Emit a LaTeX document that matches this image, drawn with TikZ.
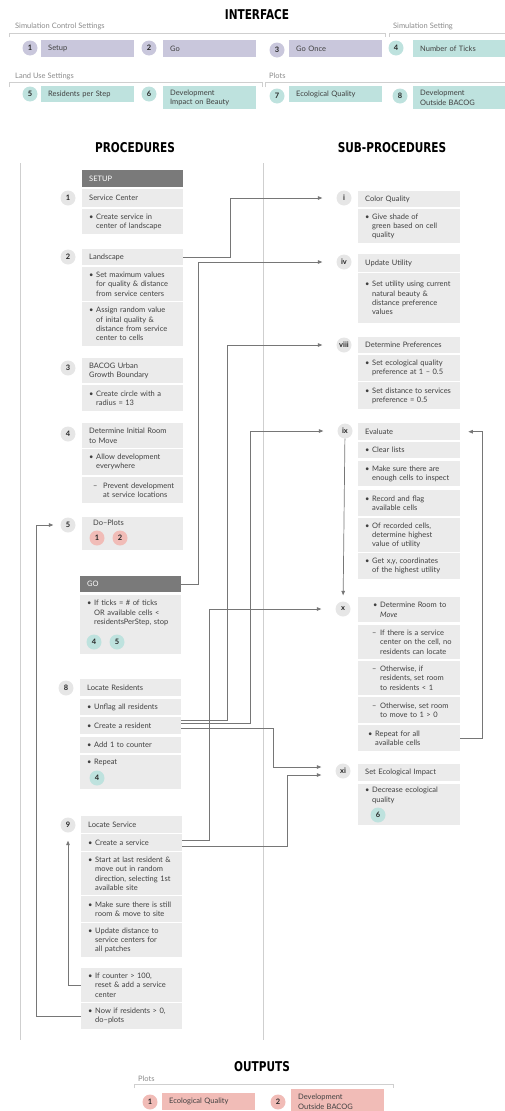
\documentclass[tikz,border=0pt]{standalone}
\usepackage{fontspec}
\setmainfont{Lato}
\newfontfamily\headfont{DejaVu Sans}[FakeStretch=0.78]
\usetikzlibrary{arrows.meta}
\definecolor{nlLav}{HTML}{C9C7DC}
\definecolor{nlTeal}{HTML}{BEE2DE}
\definecolor{nlPink}{HTML}{F1BCB7}
\definecolor{nlBox}{HTML}{EBEBEB}
\definecolor{nlDark}{HTML}{7A7A7A}
\definecolor{nlDisc}{HTML}{E6E6E6}
\definecolor{nlLine}{HTML}{767676}
\definecolor{nlRule}{HTML}{CFCFCF}
\definecolor{nlText}{HTML}{404040}
\definecolor{nlGrp}{HTML}{8A8A8A}
\newcommand{\bu}{\makebox[7pt][l]{\textbullet}}
\newcommand{\ind}{\hspace*{7pt}}
\newcommand{\da}{\hspace*{4pt}\makebox[10pt][l]{--}}
\newcommand{\dind}{\hspace*{14pt}}
\newcommand{\xda}{\hspace*{7pt}\makebox[8pt][l]{--}}
\newcommand{\xind}{\hspace*{15pt}}

\begin{document}
\begin{tikzpicture}[
  x=1pt, y=-1pt,
  every node/.style={font=\fontsize{7.5}{9.3}\selectfont, text=nlText},
  head/.style={font=\headfont\bfseries\fontsize{13.5}{13.5}\selectfont,
    text=black, inner sep=0pt},
  grp/.style={anchor=west, text=nlGrp, inner sep=0pt},
  bracket/.style={draw=nlRule, line width=0.8pt},
  divider/.style={draw=nlRule, line width=0.6pt},
  pbox/.style={rectangle, fill=nlBox, anchor=north west, align=left,
    inner xsep=7pt, inner ysep=1pt, text width=87pt},
  sbox/.style={pbox, text width=88pt},
  ibox/.style={pbox, text width=79pt},
  hbox/.style={pbox, fill=nlDark, text=white},
  num/.style={circle, fill=nlDisc, minimum size=15pt, inner sep=0pt,
    font=\bfseries\fontsize{7.5}{7.5}\selectfont, text=black!85},
  arrow/.style={-{Triangle[length=4.5pt,width=3.6pt]}, draw=nlLine,
    line width=0.7pt}
]
 \useasboundingbox (0,0) rectangle (504,1111);

 % Interface
 \node[head] (tint) at (257,15) {INTERFACE};
 \node[grp] (gctl) at (15,26) {Simulation Control Settings};
 \node[grp] (gset) at (393,26) {Simulation Setting};
 \draw[bracket] (9,37) -- (9,33) -- (385,33) -- (385,37);
 \draw[bracket] (389,37) -- (389,33) -- (510,33);

 \node[ibox, fill=nlLav, minimum height=17pt] (isetup) at (41,40) {Setup};
 \node[ibox, fill=nlLav, minimum height=17pt] (igo) at (163,40) {Go};
 \node[ibox, fill=nlLav, minimum height=17pt] (igonce) at (289,40) {Go Once};
 \node[ibox, fill=nlTeal, minimum height=17pt] (iticks) at (413,40) {Number of Ticks};
 \node[num, fill=nlLav] (i1) at (30,48) {1};
 \node[num, fill=nlLav] (i2) at (149,48) {2};
 \node[num, fill=nlLav] (i3) at (277,50) {3};
 \node[num, fill=nlTeal] (i4) at (396,48) {4};

 \node[grp] (gland) at (15,76) {Land Use Settings};
 \node[grp] (gplot) at (269,76) {Plots};
 \draw[bracket] (9,87) -- (9,82) -- (262,82) -- (262,87);
 \draw[bracket] (265,87) -- (265,82) -- (510,82);

 \node[ibox, fill=nlTeal, minimum height=16pt] (ires) at (41,86) {Residents per Step};
 \node[ibox, fill=nlTeal, minimum height=23pt] (idev) at (163,86)
  {Development\\Impact on Beauty};
 \node[ibox, fill=nlTeal, minimum height=16pt] (ieco) at (289,86) {Ecological Quality};
 \node[ibox, fill=nlTeal, minimum height=23pt] (iout) at (413,86)
  {Development\\Outside BACOG};
 \node[num, fill=nlTeal] (i5) at (30,94) {5};
 \node[num, fill=nlTeal] (i6) at (149,94) {6};
 \node[num, fill=nlTeal] (i7) at (277,96) {7};
 \node[num, fill=nlTeal] (i8) at (400,96) {8};

 % Column titles and dividers
 \node[head] (tproc) at (135,148) {PROCEDURES};
 \node[head] (tsub) at (392,148) {SUB-PROCEDURES};
 \draw[divider] (20,163) -- (20,1040);
 \draw[divider] (263,163) -- (263,1040);

 % Setup
 \node[hbox, minimum height=17pt] (setuphd) at (82,170) {SETUP};
 \node[pbox, minimum height=18pt] (svc) at (82,189) {Service Center};
 \node[pbox, minimum height=25pt] (svc1) at (82,209)
  {\bu Create service in\\\ind center of landscape};
 \node[num] (p1) at (68,198) {1};

 \node[pbox, minimum height=16pt] (land) at (82,249) {Landscape};
 \node[pbox, minimum height=34pt] (land1) at (82,267)
  {\bu Set maximum values\\\ind for quality \& distance\\\ind from service centers};
 \node[pbox, minimum height=44pt] (land2) at (82,302)
  {\bu Assign random value\\\ind of inital quality \&\\\ind distance from service\\\ind center to cells};
 \node[num] (p2) at (68,257) {2};

 \node[pbox, minimum height=25pt] (bac) at (82,358) {BACOG Urban\\Growth Boundary};
 \node[pbox, minimum height=26pt] (bac1) at (82,385)
  {\bu Create circle with a\\\ind radius = 13};
 \node[num] (p3) at (68,368) {3};

 \node[pbox, minimum height=25pt] (room) at (82,423) {Determine Initial Room\\to Move};
 \node[pbox, minimum height=26pt] (room1) at (82,449)
  {\bu Allow development\\\ind everywhere};
 \node[pbox, minimum height=26pt] (room2) at (82,477)
  {\da Prevent development\\\dind at service locations};
 \node[num] (p4) at (68,434) {4};

 \node[pbox, minimum height=33pt] (plots) at (82,517) {};
 \node[pbox, fill=none, inner xsep=0pt] (plotsl) at (93,519) {Do--Plots};
 \node[num] (p5) at (68,525) {5};
 \node[num, fill=nlPink] (pq1) at (97,538) {1};
 \node[num, fill=nlPink] (pq2) at (120,538) {2};

 % Go
 \node[hbox, minimum height=16pt] (gohd) at (80,576) {GO};
 \node[pbox, minimum height=59pt] (gotxt) at (80,595) {};
 \node[pbox, fill=none] (gotxtl) at (80,599)
  {\bu If ticks = \# of ticks\\\ind OR available cells <\\\ind residentsPerStep, stop};
 \node[num, fill=nlTeal] (gq4) at (94,642) {4};
 \node[num, fill=nlTeal] (gq5) at (117,642) {5};

 \node[pbox, minimum height=17pt] (locr) at (80,679) {Locate Residents};
 \node[pbox, minimum height=16pt] (unf) at (80,699) {\bu Unflag all residents};
 \node[pbox, minimum height=17pt] (cres) at (80,717) {\bu Create a resident};
 \node[pbox, minimum height=16pt] (addc) at (80,737) {\bu Add 1 to counter};
 \node[pbox, minimum height=34pt] (rpt) at (80,755) {};
 \node[pbox, fill=none] (rptl) at (80,758) {\bu Repeat};
 \node[num, fill=nlTeal] (rq4) at (97,778) {4};
 \node[num] (p8) at (66,688) {8};

 \node[pbox, minimum height=17pt] (lserv) at (81,816) {Locate Service};
 \node[pbox, minimum height=17pt] (csrv) at (81,834) {\bu Create a service};
 \node[pbox, minimum height=43pt] (start) at (81,852)
  {\bu Start at last resident \&\\\ind move out in random\\\ind direction, selecting 1st\\\ind available site};
 \node[pbox, minimum height=26pt] (make) at (81,896)
  {\bu Make sure there is still\\\ind room \& move to site};
 \node[pbox, minimum height=34pt] (upd) at (81,923)
  {\bu Update distance to\\\ind service centers for\\\ind all patches};
 \node[pbox, minimum height=34pt] (ifc) at (81,968)
  {\bu If counter > 100,\\\ind reset \& add a service\\\ind center};
 \node[pbox, minimum height=26pt] (nowr) at (81,1003)
  {\bu Now if residents > 0,\\\ind do--plots};
 \node[num] (p9) at (68,825) {9};

 % Sub-procedures
 \node[sbox, minimum height=16pt] (colq) at (358,191) {Color Quality};
 \node[sbox, minimum height=34pt] (colq1) at (358,209)
  {\bu Give shade of\\\ind green based on cell\\\ind quality};
 \node[num] (si) at (344,198) {i};

 \node[sbox, minimum height=18pt] (uut) at (358,254) {Update Utility};
 \node[sbox, minimum height=50pt] (uut1) at (358,273)
  {\bu Set utility using current\\\ind natural beauty \&\\\ind distance preference\\\ind values};
 \node[num] (siv) at (344,262) {iv};

 \node[sbox, minimum height=16pt] (dpref) at (358,337) {Determine Preferences};
 \node[sbox, minimum height=26pt] (dp1) at (358,355)
  {\bu Set ecological quality\\\ind preference at 1 -- 0.5};
 \node[sbox, minimum height=27pt] (dp2) at (358,382)
  {\bu Set distance to services\\\ind preference = 0.5};
 \node[num] (sviii) at (344,345) {viii};

 \node[sbox, minimum height=17pt] (evl) at (358,423) {Evaluate};
 \node[sbox, minimum height=16pt] (ev1) at (358,442) {\bu Clear lists};
 \node[sbox, minimum height=25pt] (ev2) at (358,461)
  {\bu Make sure there are\\\ind enough cells to inspect};
 \node[sbox, minimum height=26pt] (ev3) at (358,490)
  {\bu Record and flag\\\ind available cells};
 \node[sbox, minimum height=34pt] (ev4) at (358,518)
  {\bu Of recorded cells,\\\ind determine highest\\\ind value of utility};
 \node[sbox, minimum height=26pt] (ev5) at (358,553)
  {\bu Get x,y, coordinates\\\ind of the highest utility};
 \node[num] (six) at (345,431) {ix};

 \node[sbox, minimum height=25pt] (drm) at (358,597)
  {\hspace*{8pt}\bu Determine Room to\\\xind\textit{Move}};
 \node[sbox, minimum height=34pt] (dr1) at (358,625)
  {\xda If there is a service\\\xind center on the cell, no\\\xind residents can locate};
 \node[sbox, minimum height=34pt] (dr2) at (358,661)
  {\xda Otherwise, if\\\xind residents, set room\\\xind to residents < 1};
 \node[sbox, minimum height=26pt] (dr3) at (358,697)
  {\xda Otherwise, set room\\\xind to move to 1 > 0};
 \node[sbox, minimum height=26pt] (rep) at (358,725)
  {\hspace*{3pt}\bu Repeat for all\\\hspace*{10pt}available cells};
 \node[num] (sx) at (343,609) {x};

 \node[sbox, minimum height=17pt] (seti) at (358,764) {Set Ecological Impact};
 \node[sbox, minimum height=41pt] (seti1) at (358,784) {};
 \node[sbox, fill=none] (seti1l) at (358,786) {\bu Decrease ecological\\\ind quality};
 \node[num, fill=nlTeal] (sq6) at (378,815) {6};
 \node[num] (sxi) at (343,771) {xi};

 % Connectors
 \draw[arrow, shorten >=14pt] (land.east) -- ++(47,0) |- (si);
 \draw[arrow, shorten >=14pt] (gohd.east) -- ++(17,0) |- (siv);
 \draw[arrow, shorten >=14pt] ([yshift=5.5pt]cres.east) -- ++(46,0) |- (sviii);
 \draw[arrow, shorten >=14pt] ([yshift=2.5pt]cres.east) -- ++(69,0) |- (six);
 \draw[arrow, shorten >=14pt] ([yshift=-2.5pt]cres.east) -- ++(92,0)
  |- ([yshift=4pt]sxi.west);
 \draw[arrow, shorten >=14pt] ([yshift=2.5pt]csrv.east) -- ++(27,0) |- (sx);
 \draw[arrow, shorten >=14pt] ([yshift=-3.5pt]csrv.east) -- ++(105,0)
  |- ([yshift=-4pt]sxi.west);
 \draw[arrow, shorten >=6pt] (six) -- (sx);
 \draw[arrow, shorten >=8pt] (rep.east) -- ++(22,0) |- (evl.east);
 \draw[arrow, shorten >=8pt] (ifc.west) -| (p9);
 \draw[arrow, shorten >=7pt] (nowr.west) -- ++(-45,0) |- (p5);

 % Outputs
 \node[head] (tout) at (262,1067) {OUTPUTS};
 \node[grp] (gout) at (138,1079) {Plots};
 \draw[bracket] (134,1088) -- (134,1084) -- (393,1084) -- (393,1088);
 \node[ibox, fill=nlPink, minimum height=17pt] (oeco) at (162,1093) {Ecological Quality};
 \node[ibox, fill=nlPink, minimum height=25pt] (oout) at (291,1089)
  {Development\\Outside BACOG};
 \node[num, fill=nlPink] (o1) at (150,1102) {1};
 \node[num, fill=nlPink] (o2) at (278,1102) {2};
\end{tikzpicture}
\end{document}
